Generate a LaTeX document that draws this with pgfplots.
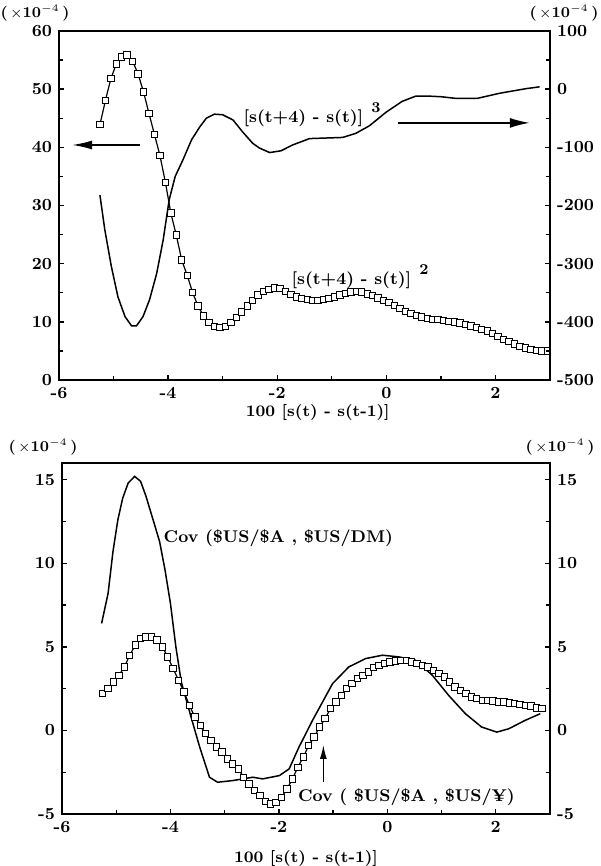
\documentclass[border=0pt]{standalone}
\usepackage{pgfplots}
\pgfplotsset{compat=1.18}
\usetikzlibrary{arrows.meta}
\pgfplotstableread{
x y
-5.25 43.9
-5.15 48.0
-5.05 51.8
-4.95 54.3
-4.85 55.5
-4.75 55.9
-4.65 54.8
-4.55 52.6
-4.45 49.5
-4.35 45.8
-4.25 42.2
-4.15 38.6
-4.05 34.0
-3.95 28.7
-3.85 24.9
-3.75 20.6
-3.65 18.0
-3.55 15.0
-3.45 12.7
-3.35 11.0
-3.25 9.9
-3.15 9.2
-3.05 9.0
-2.95 9.2
-2.85 9.9
-2.75 10.7
-2.65 11.7
-2.55 12.7
-2.45 13.7
-2.35 14.6
-2.25 15.2
-2.15 15.6
-2.05 15.8
-1.95 15.7
-1.85 15.2
-1.75 14.7
-1.65 14.3
-1.55 14.0
-1.45 13.8
-1.35 13.7
-1.25 13.7
-1.15 13.8
-1.05 14.0
-0.95 14.3
-0.85 14.6
-0.75 14.9
-0.65 15.1
-0.55 15.2
-0.45 15.1
-0.35 14.8
-0.25 14.5
-0.15 14.1
-0.05 13.7
0.05 13.3
0.15 12.8
0.25 12.3
0.35 11.8
0.45 11.4
0.55 11.1
0.65 10.8
0.75 10.6
0.85 10.45
0.95 10.35
1.05 10.25
1.15 10.1
1.25 10.0
1.35 9.8
1.45 9.5
1.55 9.3
1.65 9.0
1.75 8.7
1.85 8.4
1.95 8.0
2.05 7.5
2.15 7.0
2.25 6.6
2.35 6.2
2.45 5.8
2.55 5.5
2.65 5.2
2.75 5.05
2.85 5.0
2.95 5.0
}\sqtab
\pgfplotstableread{
x y
-5.25 -182
-5.16 -242
-5.04 -305
-4.92 -357
-4.79 -391
-4.67 -407
-4.58 -407
-4.46 -391
-4.34 -362
-4.21 -317
-4.09 -259
-3.98 -190
-3.87 -150
-3.73 -122
-3.57 -87
-3.42 -65
-3.30 -50
-3.15 -43
-3.00 -44
-2.81 -53
-2.63 -74
-2.45 -93
-2.33 -101
-2.14 -109
-1.93 -106
-1.72 -96
-1.55 -90
-1.41 -85
-1.10 -84
-0.80 -83
-0.56 -76
-0.31 -63
-0.01 -40
0.29 -21
0.54 -12
0.78 -12
1.00 -13
1.29 -16
1.66 -16
2.08 -7
2.57 1
2.81 4
}\cubetab
\pgfplotstableread{
x y
-5.27 6.4
-5.15 8.2
-5.06 10.7
-4.97 12.6
-4.88 13.9
-4.78 14.8
-4.66 15.2
-4.55 14.9
-4.45 14.0
-4.32 12.6
-4.20 11.3
-4.10 9.6
-4.00 7.6
-3.90 5.0
-3.80 2.9
-3.62 0.8
-3.46 -1.0
-3.28 -2.8
-3.13 -3.1
-2.85 -3.0
-2.48 -2.8
-2.30 -2.9
-1.99 -2.7
-1.81 -2.3
-1.63 -1.0
-1.38 0.6
-1.01 2.8
-0.71 3.8
-0.40 4.3
-0.09 4.5
0.21 4.4
0.52 4.2
0.83 3.3
1.13 2.1
1.44 1.0
1.74 0.2
2.02 -0.1
2.24 0.1
2.54 0.6
2.82 1.0
}\dmtab
\pgfplotstableread{
x y
-5.25 2.2
-5.15 2.5
-5.05 2.9
-4.95 3.3
-4.85 3.8
-4.75 4.5
-4.65 5.1
-4.55 5.5
-4.45 5.6
-4.35 5.6
-4.25 5.4
-4.15 5.0
-4.05 4.4
-3.95 3.7
-3.85 3.0
-3.75 2.3
-3.65 1.5
-3.55 0.8
-3.45 0.3
-3.35 -0.2
-3.25 -0.6
-3.15 -1.0
-3.05 -1.3
-2.95 -1.7
-2.85 -2.0
-2.75 -2.3
-2.65 -2.8
-2.55 -3.2
-2.45 -3.6
-2.35 -3.9
-2.25 -4.25
-2.15 -4.4
-2.05 -4.3
-1.95 -4.0
-1.85 -3.5
-1.75 -2.9
-1.65 -2.2
-1.55 -1.6
-1.45 -0.9
-1.35 -0.4
-1.25 0.2
-1.15 0.7
-1.05 1.3
-0.95 1.7
-0.85 2.1
-0.75 2.5
-0.65 2.8
-0.55 3.1
-0.45 3.3
-0.35 3.5
-0.25 3.75
-0.15 3.9
-0.05 4.0
0.05 4.1
0.15 4.15
0.25 4.2
0.35 4.2
0.45 4.1
0.55 4.0
0.65 3.9
0.75 3.8
0.85 3.6
0.95 3.4
1.05 3.2
1.15 2.9
1.25 2.6
1.35 2.4
1.45 2.2
1.55 2.0
1.65 1.9
1.75 1.8
1.85 1.8
1.95 1.75
2.05 1.7
2.15 1.7
2.25 1.65
2.35 1.6
2.45 1.55
2.55 1.5
2.65 1.45
2.75 1.35
2.85 1.3
}\yentab
\begin{document}
\begin{tikzpicture}
\pgfplotsset{
  every axis/.append style={
    scale only axis,
    xmin=-6, xmax=3,
    xtick={-6,-4,-2,0,2}, minor xtick={-5,-3,-1,1},
    tick align=inside, major tick length=2.5pt, minor tick length=2pt,
    every tick/.style={black, line width=0.7pt},
    axis line style={line width=0.8pt},
    ticklabel style={font=\fontsize{8.5}{10}\selectfont\bfseries},
    /pgf/number format/assume math mode=true,
  },
  sqstyle/.style={black, line width=0.6pt, mark=square*, mark size=1.6pt,
    mark options={fill=white, line width=0.5pt}},
  lnstyle/.style={black, line width=0.75pt, no marks},
}
\path[use as bounding box] (0,0) rectangle (300pt,433pt);
\def\anfont{\fontsize{8.5}{10}\selectfont\bfseries}
\def\lbfont{\fontsize{8}{10}\selectfont\bfseries}
% ---------- top panel, left axis
\begin{axis}[at={(29.5pt,243pt)}, anchor=south west,
  width=245.5pt, height=174.5pt,
  ymin=0, ymax=60, ytick={0,10,...,60}, minor ytick={5,15,...,55},
  xtick pos=lower, ytick pos=left,
  xlabel={100 [s(t) - s(t-1)]},
  every axis x label/.style={at={(axis description cs:0.527,0)}, anchor=center, yshift=-16.5pt, font=\lbfont},
  clip=false]
\addplot[sqstyle] table {\sqtab};
\draw[line width=0.8pt, -{Latex[length=10pt,width=4.5pt]}] (axis cs:-4.52,40.4) -- (axis cs:-5.76,40.4);
\draw[line width=0.8pt, -{Latex[length=10pt,width=5pt]}] (axis cs:0.21,44.2) -- (axis cs:2.63,44.2);
\node[font=\anfont, inner sep=0pt] at (axis cs:-1.52,45.6) {[s(t+4) - s(t)]\rlap{\hspace{4pt}\raisebox{5pt}{\fontsize{7.5}{9}\selectfont 3}}};
\node[font=\anfont, inner sep=0pt] at (axis cs:-0.64,17.7) {[s(t+4) - s(t)]\rlap{\hspace{4pt}\raisebox{5pt}{\fontsize{7.5}{9}\selectfont 2}}};
\end{axis}
% ---------- top panel, right axis
\begin{axis}[at={(29.5pt,243pt)}, anchor=south west,
  width=245.5pt, height=174.5pt,
  ymin=-500, ymax=100, ytick={-500,-400,...,100}, minor ytick={-450,-350,...,50},
  hide x axis, axis y line*=right]
\addplot[lnstyle] table {\cubetab};
\end{axis}
% ---------- bottom panel, left axis
\begin{axis}[at={(31pt,26pt)}, anchor=south west,
  width=244pt, height=175.5pt,
  ymin=-5, ymax=16, ytick={-5,0,5,10,15}, minor ytick={-2.5,2.5,7.5,12.5},
  xtick pos=lower, ytick pos=left,
  xlabel={100 [s(t) - s(t-1)]},
  every axis x label/.style={at={(axis description cs:0.5,0)}, anchor=center, yshift=-22pt, font=\lbfont},
  clip=false]
\addplot[lnstyle] table {\dmtab};
\addplot[sqstyle] table {\yentab};
\draw[line width=0.7pt, -{Latex[length=7pt,width=3.5pt]}] (axis cs:-1.18,-3.1) -- (axis cs:-1.18,-0.87);
\node[font=\anfont, inner sep=0pt] at (axis cs:-2.01,11.5) {Cov (\$US/\$A , \$US/DM)};
\node[font=\anfont, inner sep=0pt] at (axis cs:0.35,-4.0) {Cov ( \$US/\$A , \$US/¥)};
\end{axis}
% ---------- bottom panel, right axis
\begin{axis}[at={(31pt,26pt)}, anchor=south west,
  width=244pt, height=175.5pt,
  ymin=-5, ymax=16, ytick={-5,0,5,10,15}, minor ytick={-2.5,2.5,7.5,12.5},
  hide x axis, axis y line*=right]
\end{axis}
% ---------- scale labels
\begin{scope}[every node/.style={font=\fontsize{7.5}{9}\selectfont\bfseries, inner sep=0pt}]
\node at (17.5pt,426.5pt) {(\,$\times$10$^{-4}$\,)};
\node at (282pt,426.5pt) {(\,$\times$10$^{-4}$\,)};
\node at (21.5pt,209.5pt) {(\,$\times$10$^{-4}$\,)};
\node at (280pt,209.5pt) {(\,$\times$10$^{-4}$\,)};
\end{scope}
\end{tikzpicture}
\end{document}
